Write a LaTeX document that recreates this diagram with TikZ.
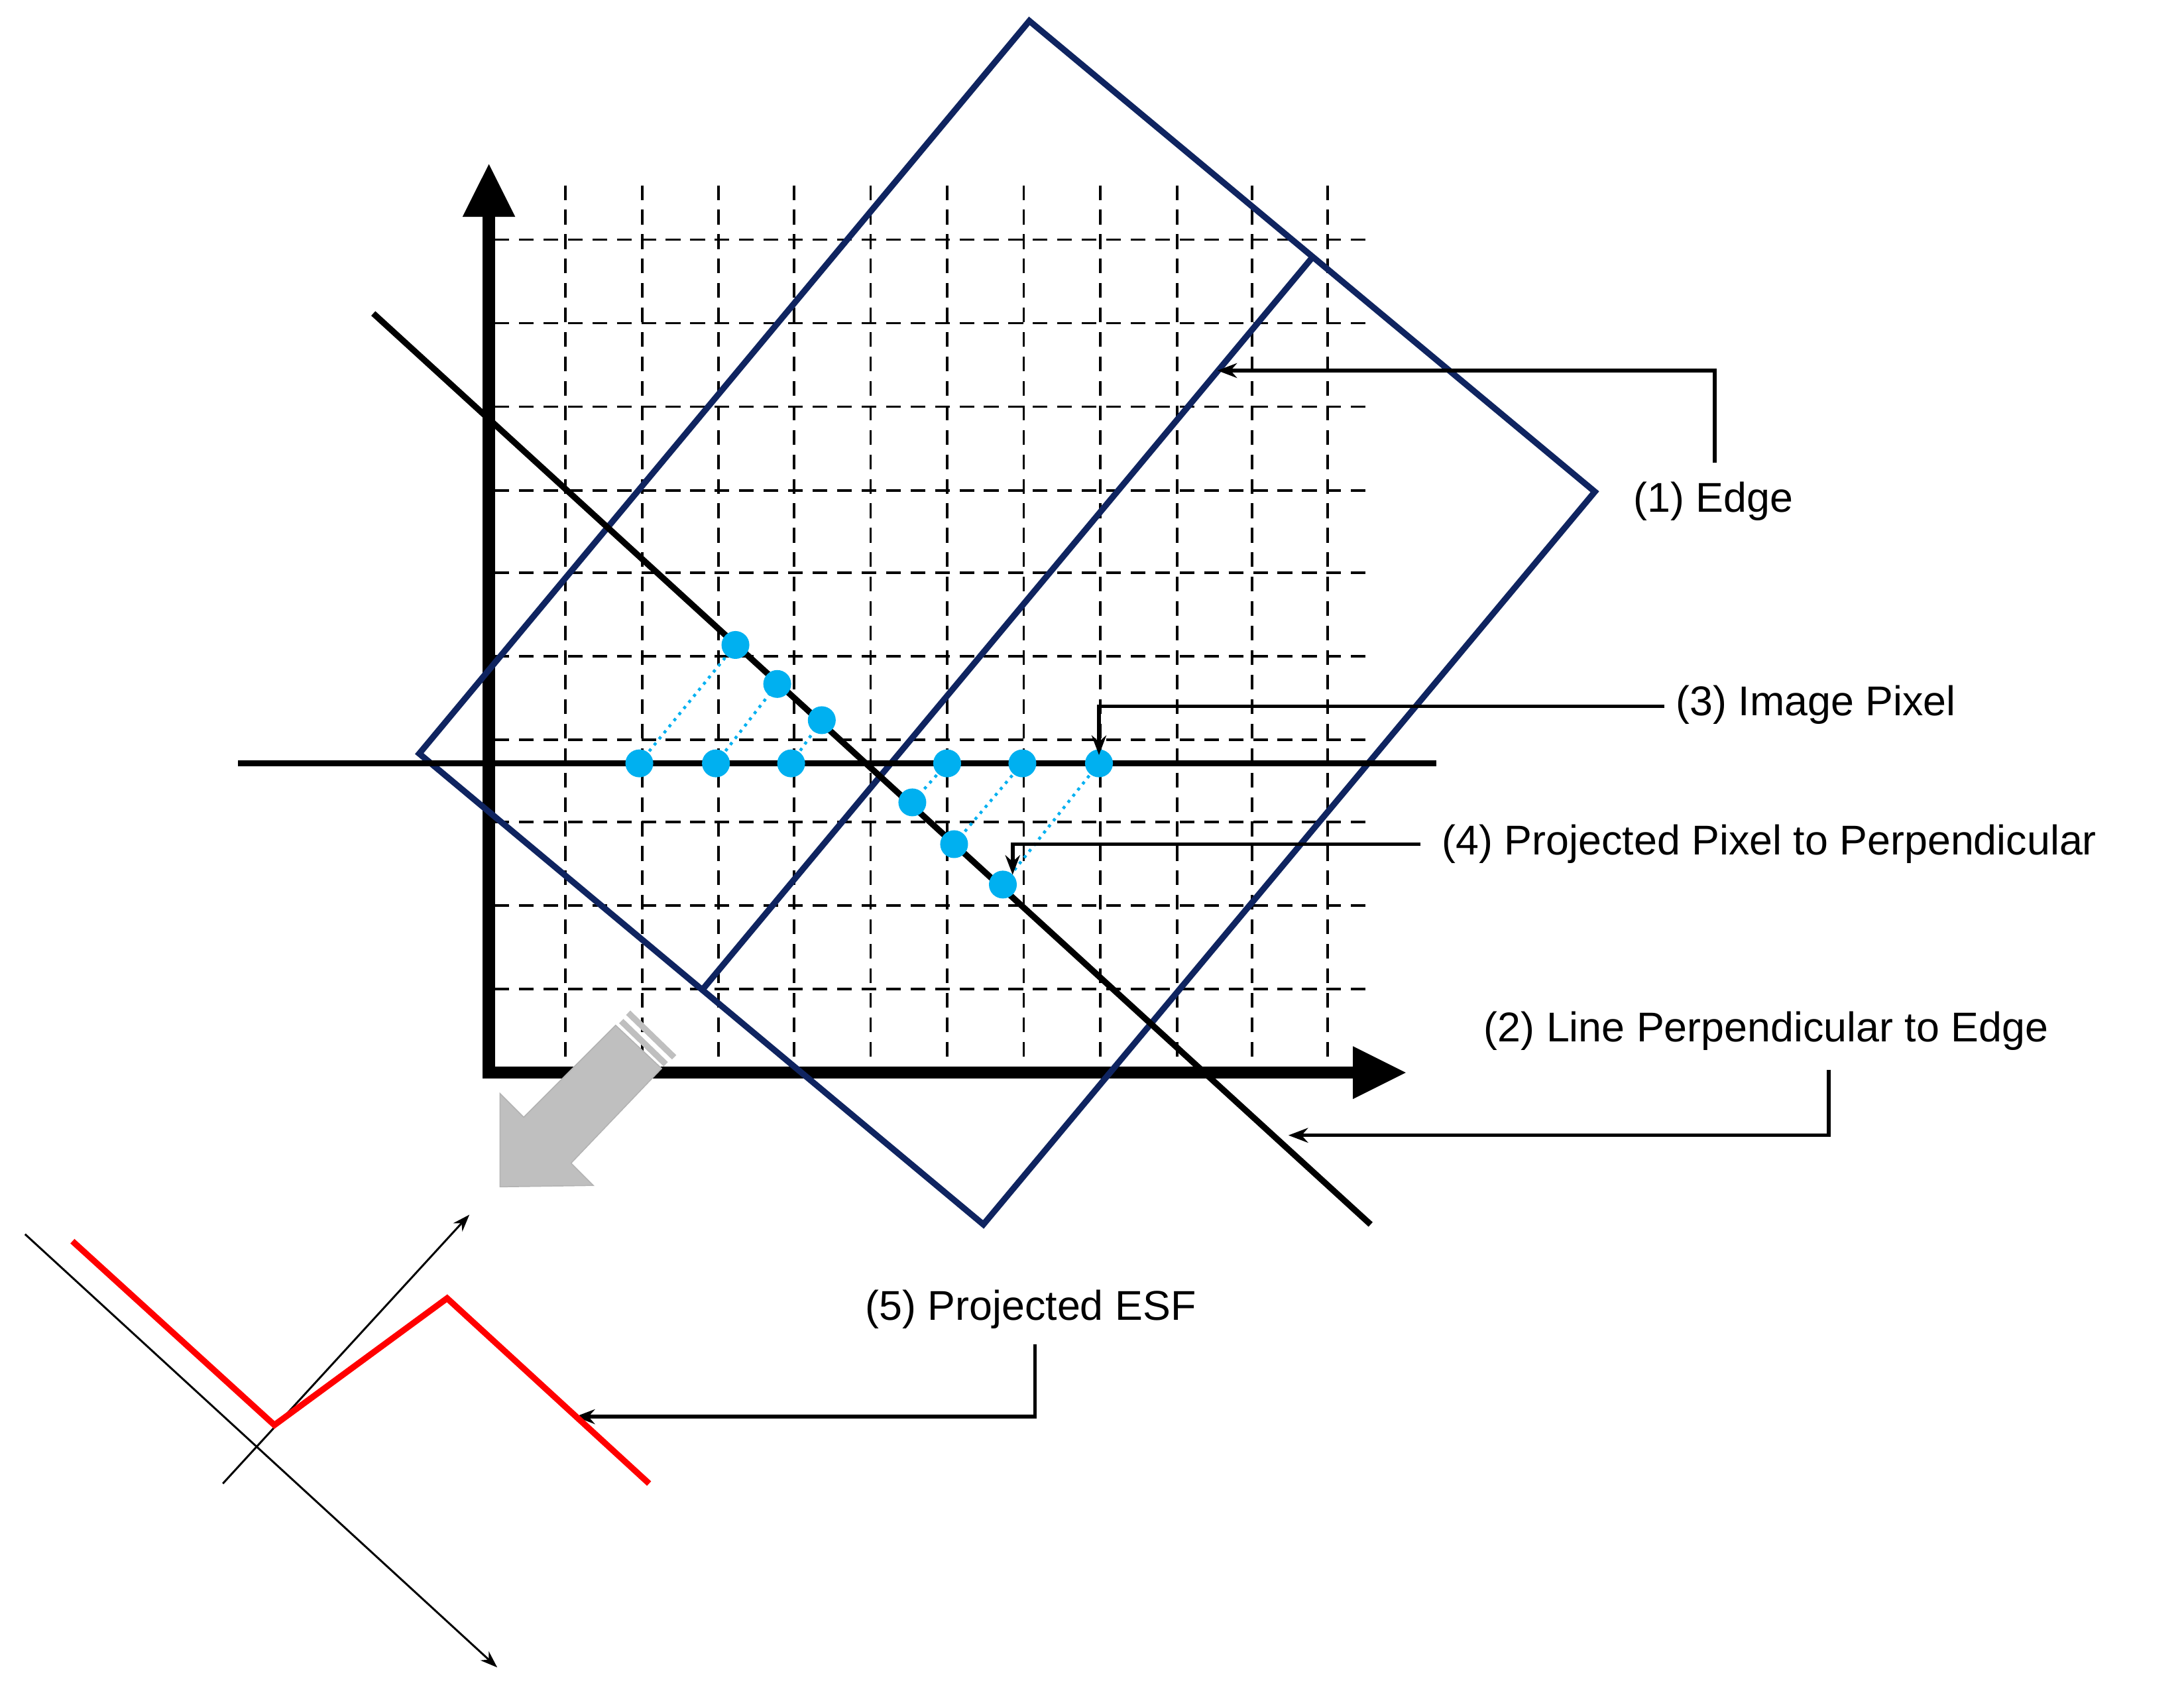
\documentclass[tikz,border=0pt]{standalone}
\usepackage{fontspec}
\setmainfont{Liberation Sans}
\usetikzlibrary{arrows.meta}
\definecolor{navy}{HTML}{0F2460}
\definecolor{dotblue}{HTML}{00B0F0}
\begin{document}
\begin{tikzpicture}[x=0.02cm,y=-0.02cm,
  lbl/.style={font=\fontsize{17}{20}\selectfont,inner sep=0pt},
  callout/.style={line width=1.5pt,-{Stealth[length=8pt,width=6pt]}},
  pix/.style={circle,fill=dotblue,minimum size=0.4cm,inner sep=0pt},
  proj/.style={dotblue,dotted,line width=1.2pt}]
\useasboundingbox (0,0) rectangle (1568,1215);
% grid
\foreach \x in {406,461,516,570,625,680,735,790,845,899,953}
  \draw[dashed,line width=1pt,dash pattern=on 6pt off 4pt] (\x,133) -- (\x,765);
\foreach \y in {172,232,292,352,411,471,531,590,650,710}
  \draw[dashed,line width=1pt,dash pattern=on 6pt off 4pt] (355,\y) -- (985,\y);
% axes
\coordinate (o) at (351,770);
\coordinate (yt) at (351,117);
\coordinate (xt) at (1010,770);
\draw[line width=5pt,-{Triangle[length=22pt,width=20pt]}] (351,774) -- (yt);
\draw[line width=5pt,-{Triangle[length=22pt,width=20pt]}] (347,770) -- (xt);
% edge rectangle
\draw[navy,line width=2.5pt,line join=miter] (739,15) -- (1145,353) -- (706,879) -- (301,541) -- cycle;
\draw[navy,line width=2.5pt] (942,185) -- (503,712);
% lines
\draw[line width=2.5pt] (268,225) -- (984,879);
\draw[line width=2.5pt] (171,548) -- (1031,548);
% pixels
\foreach \n/\a/\b/\c/\d in {1/459/548/528/463,2/514/548/558/491,3/568/548/590/517,4/680/548/655/576,5/734/548/685/606,6/789/548/720/635}{
  \draw[proj] (\a,\b) -- (\c,\d);
  \node[pix] (p\n) at (\a,\b) {};
  \node[pix] (q\n) at (\c,\d) {};
}
% gray arrow
\fill[gray!50,draw=gray!60] (442,736) -- (376,802) -- (359,785) -- (359,852) -- (426,851) -- (410,835) -- (475,767) -- cycle;
\draw[gray!50,line width=2.5pt] (446,733) -- (478,764);
\draw[gray!50,line width=2.5pt] (451,727) -- (484,759);
% labels and callouts
\node[lbl] (l1) at (1230,360) {(1) Edge};
\draw[callout] (1231,332) -- (1231,266) -- (874,266);
\node[lbl,anchor=west] (l3) at (1203,506) {(3) Image Pixel};
\draw[callout] (1195,507) -- (789,507) -- (789,542);
\node[lbl,anchor=west] (l4) at (1035,606) {(4) Projected Pixel to Perpendicular};
\draw[callout] (1020,606) -- (727,606) -- (727,628);
\node[lbl] (l2) at (1268,740) {(2) Line Perpendicular to Edge};
\draw[callout] (1313,768) -- (1313,815) -- (925,815);
\node[lbl] (l5) at (740,940) {(5) Projected ESF};
\draw[callout] (743,965) -- (743,1017) -- (413,1017);
% ESF
\draw[line width=0.8pt,-{Stealth[length=7pt,width=5pt]}] (18,886) -- (357,1197);
\draw[line width=0.8pt,-{Stealth[length=7pt,width=5pt]}] (160,1065) -- (337,872);
\draw[red,line width=2.5pt] (52,891) -- (197,1023) -- (321,932) -- (466,1065);
\end{tikzpicture}
\end{document}
